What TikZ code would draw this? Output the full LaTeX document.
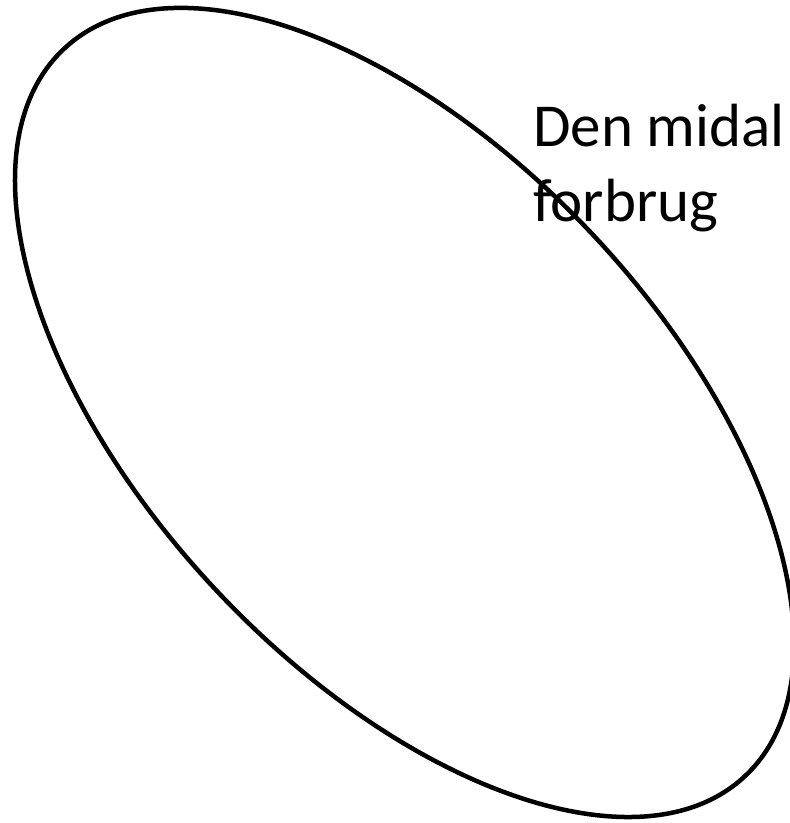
\documentclass[tikz,border=0pt]{standalone}
\usepackage{fontspec}
\setmainfont{Carlito}
\usetikzlibrary{positioning}

\begin{document}
\begin{tikzpicture}[x=1pt, y=-1pt,
  oval/.style={draw=black, line width=4.5pt},
  caption/.style={inner sep=0pt, anchor=base west, align=left,
    font=\fontsize{61}{75}\selectfont}
]
  \useasboundingbox (0,0) rectangle (790,823);
  \clip (0,0) rectangle (790,823);

  \coordinate (c) at (404.5,412.5);
  \draw[oval, rotate around={-46.89:(c)}] (c) ellipse[x radius=498.2, y radius=259];

  % base of a two-line node sits on its last line
  \node[caption] (txt) at (533,221) {Den midal\\forbrug};
\end{tikzpicture}
\end{document}
